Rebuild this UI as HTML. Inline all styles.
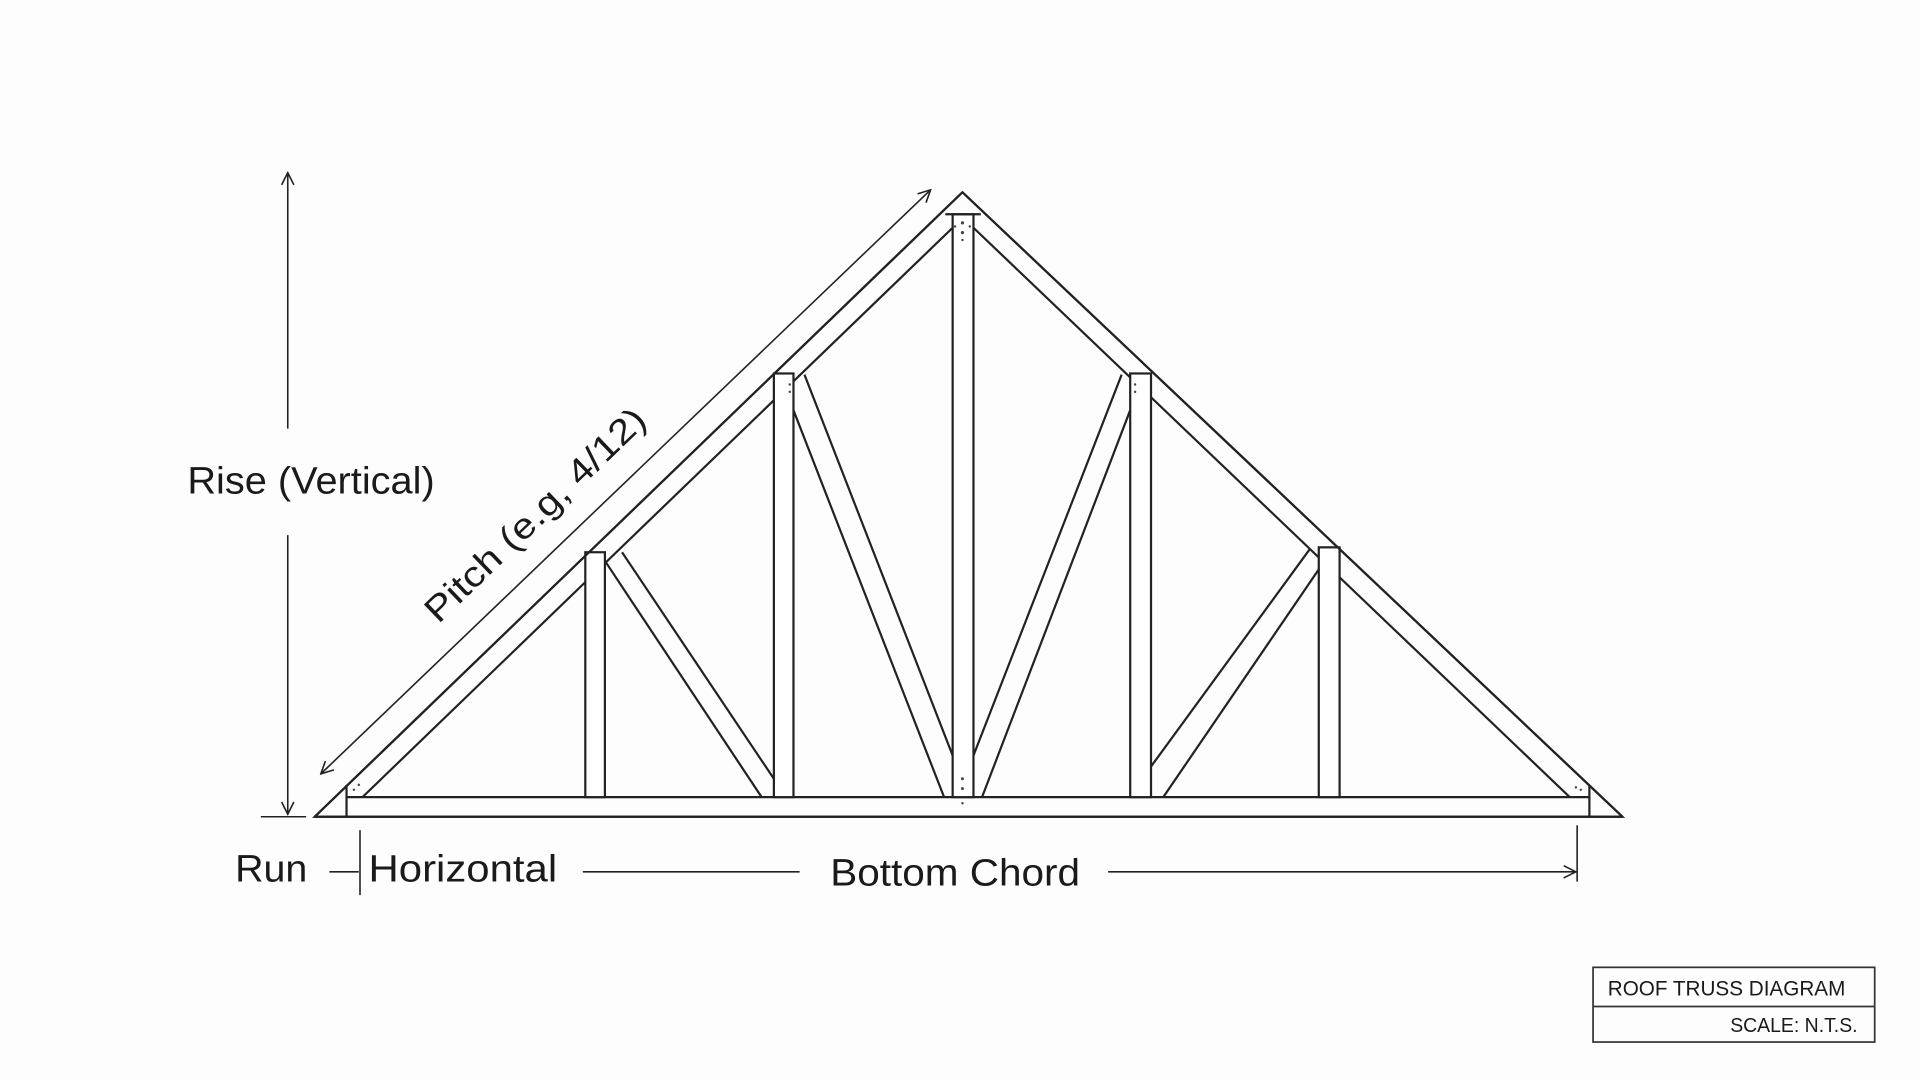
<!DOCTYPE html>
<html><head><meta charset="utf-8"><style>
html,body{margin:0;padding:0;background:#fff;}
svg{display:block;}
text{font-family:"Liberation Sans",sans-serif;fill:#1a1a1a;}
</style></head><body>
<svg width="1920" height="1080" viewBox="0 0 1568 882" xmlns="http://www.w3.org/2000/svg">
<rect width="1568" height="882" fill="#fdfdfd"/>
<defs>
<marker id="ah" viewBox="0 0 12 12" refX="11" refY="6" markerWidth="12" markerHeight="12" markerUnits="userSpaceOnUse" orient="auto-start-reverse">
<path d="M1,1 L11,6 L1,11" fill="none" stroke="#222" stroke-width="1.3"/>
</marker>
</defs>
<g stroke="#222" stroke-width="1.8" fill="none" stroke-linejoin="miter">
<path d="M257,667 L786,157 L1325,667 Z"/>
<line x1="283" y1="651" x2="1298" y2="651"/>
<line x1="283" y1="641" x2="283" y2="667"/>
<line x1="1298" y1="641" x2="1298" y2="667"/>
<line x1="296" y1="651" x2="778" y2="186"/>
<line x1="1282" y1="651" x2="795" y2="186"/>
<!-- diagonals -->
<line x1="494" y1="458" x2="622" y2="651"/>
<line x1="508" y1="451" x2="632" y2="636"/>
<line x1="657" y1="306" x2="778" y2="617"/>
<line x1="648" y1="335" x2="771" y2="651"/>
<line x1="916" y1="306" x2="795" y2="617"/>
<line x1="923" y1="335" x2="802" y2="651"/>
<line x1="1070" y1="448" x2="940" y2="626"/>
<line x1="1077" y1="465" x2="950" y2="651"/>
</g>
<g stroke="#222" stroke-width="1.8" fill="#fff">
<rect x="478" y="451" width="16" height="200"/>
<rect x="632" y="305" width="16" height="346"/>
<rect x="778" y="175" width="17" height="476"/>
<rect x="923" y="305" width="17" height="346"/>
<rect x="1077" y="447" width="17" height="204"/>
</g>
<g stroke="#222" stroke-width="1.8" fill="none">
<line x1="257" y1="667" x2="786" y2="157"/>
<line x1="786" y1="157" x2="1325" y2="667"/>
<line x1="772" y1="175" x2="801" y2="175"/>
<line x1="257" y1="667" x2="1325" y2="667"/>
</g>
<g fill="#444">
<circle cx="786" cy="182" r="1.3"/><circle cx="786" cy="190" r="1.3"/><circle cx="780" cy="185" r="1"/><circle cx="792" cy="185" r="1"/><circle cx="786" cy="196" r="1"/>
<circle cx="786" cy="636" r="1.2"/><circle cx="786" cy="644" r="1.2"/><circle cx="786" cy="656" r="1"/>
<circle cx="289" cy="645" r="1"/><circle cx="293" cy="641" r="1"/>
<circle cx="1287" cy="643" r="1"/><circle cx="1291" cy="645" r="1"/>
<circle cx="645" cy="314" r="1"/><circle cx="645" cy="320" r="1"/>
<circle cx="927" cy="314" r="1"/><circle cx="927" cy="320" r="1"/>
</g>
<g stroke="#222" stroke-width="1.3" fill="none">
<line x1="235" y1="141" x2="235" y2="350" marker-start="url(#ah)"/>
<line x1="235" y1="437" x2="235" y2="665" marker-end="url(#ah)"/>
<line x1="213" y1="667" x2="250" y2="667"/>
<line x1="262" y1="632" x2="760" y2="155" marker-start="url(#ah)" marker-end="url(#ah)"/>
<line x1="269" y1="712" x2="293" y2="712"/>
<line x1="294" y1="678" x2="294" y2="731"/>
<line x1="476" y1="712" x2="653" y2="712"/>
<line x1="905" y1="712" x2="1287" y2="712" marker-end="url(#ah)"/>
<line x1="1288" y1="674" x2="1288" y2="720"/>
</g>
<text x="153" y="403" font-size="31" textLength="202" lengthAdjust="spacingAndGlyphs">Rise (Vertical)</text>
<text transform="translate(358,510) rotate(-43.9)" font-size="29" textLength="238" lengthAdjust="spacingAndGlyphs">Pitch (e.g, 4/12)</text>
<text x="192" y="720" font-size="31" textLength="59" lengthAdjust="spacingAndGlyphs">Run</text>
<text x="301" y="720" font-size="31" textLength="154" lengthAdjust="spacingAndGlyphs">Horizontal</text>
<text x="678" y="723" font-size="31" textLength="204" lengthAdjust="spacingAndGlyphs">Bottom Chord</text>
<g stroke="#333" stroke-width="1.4" fill="none">
<rect x="1301" y="790" width="230" height="61"/>
<line x1="1301" y1="822" x2="1531" y2="822"/>
</g>
<text x="1313" y="813" font-size="17.5" textLength="194" lengthAdjust="spacingAndGlyphs">ROOF TRUSS DIAGRAM</text>
<text x="1413" y="843" font-size="16.5" textLength="104" lengthAdjust="spacingAndGlyphs">SCALE: N.T.S.</text>
</svg>
</body></html>
